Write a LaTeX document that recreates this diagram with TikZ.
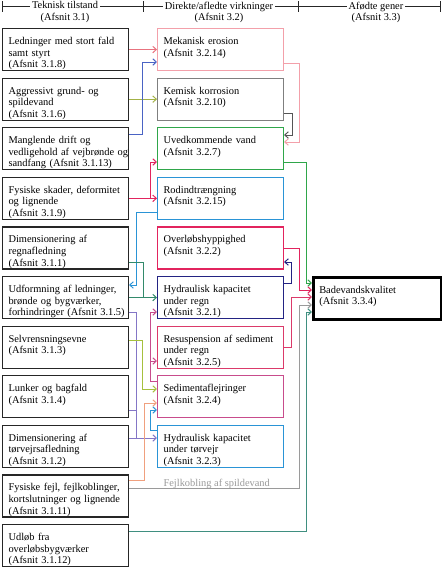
\documentclass[tikz,border=0pt]{standalone}
\usepackage{fontspec}
\setmainfont{Liberation Serif}
\usetikzlibrary{arrows.meta}

\definecolor{boxblack}{HTML}{262626}
\definecolor{cpink}{HTML}{E8737F}
\definecolor{clight}{HTML}{F3A0AA}
\definecolor{croyal}{HTML}{4A63C4}
\definecolor{colive}{HTML}{A3B246}
\definecolor{cgray}{HTML}{7F7F7F}
\definecolor{cdark}{HTML}{555555}
\definecolor{cgreen}{HTML}{2FA64A}
\definecolor{ccrimson}{HTML}{E2245E}
\definecolor{csky}{HTML}{2A94D6}
\definecolor{cteal}{HTML}{338A6B}
\definecolor{cnavy}{HTML}{232383}
\definecolor{crose}{HTML}{DB3A6A}
\definecolor{cpurple}{HTML}{8476C6}
\definecolor{clime}{HTML}{A6C03E}
\definecolor{csalmon}{HTML}{F0A07E}
\definecolor{cmagenta}{HTML}{C84C8C}
\definecolor{cfaint}{HTML}{9A9A9A}
\definecolor{ctealb}{HTML}{3F8F80}

\begin{document}
\begin{tikzpicture}[x=1pt,y=-1pt,
	font=\fontsize{10.4}{11.6}\selectfont,
	>={Straight Barb[length=3.5pt,width=6.5pt]},
	box/.style={rectangle,draw=boxblack,fill=white,anchor=north west,align=left,
		text width=114pt,inner xsep=6pt,inner ysep=0pt,
		text height=16pt,text depth=26pt,line width=1.1pt,
		execute at begin node={\rightskip=-10pt plus 1fil\relax}},
	head/.style={anchor=north,align=center,fill=white,inner xsep=2pt,inner ysep=0pt},
	link/.style={line width=1pt}]
	
		\useasboundingbox (0,0) rectangle (442,568);
		
		% column heads
		\draw[line width=0.8pt,boxblack] (2,6.5) -- (440,6.5);
		\foreach \x in {2,143,298,440}
			\draw[line width=0.8pt,boxblack] (\x,1) -- (\x,12);
		\node[head] (h1) at (65,1.5) {Teknisk tilstand\\(Afsnit 3.1)};
		\node[head] (h2) at (219,1.5) {Direkte/afledte virkninger\\(Afsnit 3.2)};
		\node[head] (h3) at (376,1.5) {Afødte gener\\(Afsnit 3.3)};
		
		% technical state
		\node[box] (l1) at (2,28) {Ledninger med stort fald\\samt styrt\\(Afsnit 3.1.8)};
		\node[box] (l2) at (2,77.6) {Aggressivt grund- og\\spildevand\\(Afsnit 3.1.6)};
		\node[box] (l3) at (2,127.2) {Manglende drift og\\vedligehold af vejbrønde og\\sandfang (Afsnit 3.1.13)};
		\node[box] (l4) at (2,176.8) {Fysiske skader, deformitet\\og lignende\\(Afsnit 3.1.9)};
		\node[box] (l5) at (2,226.4) {Dimensionering af\\regnafledning\\(Afsnit 3.1.1)};
		\node[box] (l6) at (2,276) {Udformning af ledninger,\\brønde og bygværker,\\forhindringer (Afsnit 3.1.5)};
		\node[box] (l7) at (2,325.6) {Selvrensningsevne\\(Afsnit 3.1.3)};
		\node[box] (l8) at (2,375.2) {Lunker og bagfald\\(Afsnit 3.1.4)};
		\node[box] (l9) at (2,424.8) {Dimensionering af\\tørvejrsafledning\\(Afsnit 3.1.2)};
		\node[box] (l10) at (2,474.4) {Fysiske fejl, fejlkoblinger,\\kortslutninger og lignende\\(Afsnit 3.1.11)};
		\node[box] (l11) at (2,524) {Udløb fra\\overløbsbygværker\\(Afsnit 3.1.12)};
		
		% direct effects
		\node[box,draw=clight] (m1) at (157,28) {Mekanisk erosion\\(Afsnit 3.2.14)};
		\node[box,draw=cgray] (m2) at (157,77.6) {Kemisk korrosion\\(Afsnit 3.2.10)};
		\node[box,draw=cgreen] (m3) at (157,127.2) {Uvedkommende vand\\(Afsnit 3.2.7)};
		\node[box,draw=csky] (m4) at (157,176.8) {Rodindtrængning\\(Afsnit 3.2.15)};
		\node[box,draw=ccrimson] (m5) at (157,226.4) {Overløbshyppighed\\(Afsnit 3.2.2)};
		\node[box,draw=cnavy] (m6) at (157,276) {Hydraulisk kapacitet\\under regn\\(Afsnit 3.2.1)};
		\node[box,draw=crose] (m7) at (157,325.6) {Resuspension af sediment\\under regn\\(Afsnit 3.2.5)};
		\node[box,draw=cmagenta] (m8) at (157,375.2) {Sedimentaflejringer\\(Afsnit 3.2.4)};
		\node[box,draw=csky] (m9) at (157,424.8) {Hydraulisk kapacitet\\under tørvejr\\(Afsnit 3.2.3)};
		
		% nuisance
		\node[box,draw=black,line width=2.6pt,text width=116pt] (r) at (312,276) {Badevandskvalitet\\(Afsnit 3.3.4)};
		
		\coordinate (fork4) at (150,197.8);
		\coordinate (fork6) at (143,297);
		\coordinate (fork8) at (150,361);
		\coordinate (fork9) at (136,438);
		
		\path[->,link,color=cpink] (l1) edge (m1);
		\path[->,link,color=colive] (l2) edge (m2);
		\draw[->,link,croyal] (l3.east |- 0,134) -- (142,134) |- (m1.west |- 0,62);
		\draw[->,link,clight] (m1.east |- 0,63) -- (299,63) |- (m3.east |- 0,142);
		\draw[->,link,cdark] (m2.east |- 0,113) -- (292,113) |- (m3.east |- 0,135);
		
		\path[->,link,color=ccrimson] (l4) edge (m4);
		\draw[->,link,ccrimson] (fork4) |- (m3.west |- 0,162);
		\draw[->,link,csky] (m4.west |- 0,212) -- (136,212) |- (l6.east |- 0,285);
		
		\path[->,link,color=cteal] (l6) edge (m6);
		\draw[link,cteal] (l5.east |- 0,262) -| (fork6);
		\draw[->,link,cnavy] (m6.east |- 0,283) -- (291,283) |- (m5.east |- 0,262);
		
		% into bathing water quality
		\draw[->,link,cgreen] (m3.east |- 0,162) -- (306,162) |- (r.west |- 0,283);
		\draw[->,link,ccrimson] (m5.east |- 0,248) -- (299,248) |- (r.west |- 0,290);
		\draw[->,link,crose] (m7.east |- 0,347) -- (291,347) |- (r.west |- 0,297);
		\draw[->,link,cfaint] (l10.east |- 0,488) -- node[pos=0.2,anchor=base west,yshift=2pt,inner sep=0pt,text=cfaint] {Fejlkobling af spildevand} (299,488) |- (r.west |- 0,305);
		\draw[->,link,ctealb] (l11.east |- 0,531) -- (306,531) |- (r.west |- 0,312);
		
		% sediment and dry weather
		\path[->,link,color=cpurple] (l9.east |- fork9) edge (m9.west |- fork9);
		\draw[link,cpurple] (l6.east |- 0,312) -| (fork9);
		\draw[link,cpurple] (l8.east |- 0,410) -- (136,410);
		\draw[->,link,clime] (l7.east |- 0,340) -- (142,340) |- (m8.west |- 0,389);
		\draw[->,link,csalmon] (l10.east |- 0,480) -- (144,480) |- (m8.west |- 0,403);
		\draw[->,link,cmagenta] (m8.west |- 0,381) -- (150,381) |- (m6.west |- 0,312);
		\draw[->,link,cmagenta] (fork8) -- (m7.west |- fork8);
		\draw[->,link,csky] (m9.west |- 0,430) -- (150,430) |- (m8.west |- 0,410);
		
	\end{tikzpicture}
\end{document}
